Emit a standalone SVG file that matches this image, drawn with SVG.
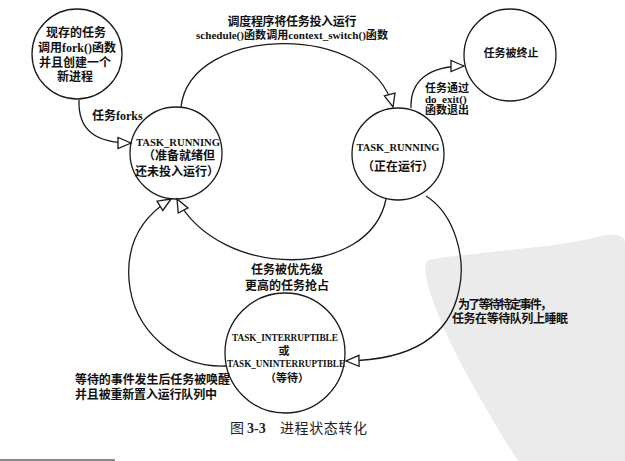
<svg xmlns="http://www.w3.org/2000/svg" width="625" height="461" viewBox="0 0 625 461">
<style>
.node{fill:none;stroke:#1a1a1a;stroke-width:1.3}
.edge{fill:none;stroke:#1a1a1a;stroke-width:1.3}
.t{font-family:"Liberation Serif","Noto Sans CJK SC",serif;font-weight:bold;font-size:12px;fill:#111}
.c{text-anchor:middle}
.lat{font-family:"Liberation Serif",serif;font-size:11px}
.cap{font-family:"Liberation Serif","Noto Sans CJK SC",serif;font-size:14px;fill:#222}
</style>
<defs>
<marker id="arr" markerUnits="userSpaceOnUse" markerWidth="18" markerHeight="14" viewBox="-15 -7 17 14" refX="0" refY="0" orient="auto">
<path d="M0,0 L-13,-5.5 L-13,5.5 Z" fill="#fff" stroke="#1a1a1a" stroke-width="1.3"/>
</marker>
</defs>
<rect width="625" height="461" fill="#fff"/>
<g id="watermark">
<path d="M428 260 C470 252 560 248 600 236 C615 232 625 236 625 242 L625 461 L518 461 C492 420 458 362 442 324 C431 298 420 268 428 260 Z" fill="#ebebeb"/>
</g>
<line x1="0" y1="460" x2="115" y2="460" stroke="#666" stroke-width="1.5"/>
<g id="connectors">
<path class="edge" d="M79 100 C78 130 95 143 131 143" marker-end="url(#arr)"/>
<path class="edge" d="M181 107 C190 25 370 20 393 107" marker-end="url(#arr)"/>
<path class="edge" d="M411 108 C410 80 430 66 464 66" marker-end="url(#arr)"/>
<path class="edge" d="M386 199 C370 280 220 280 177 199" marker-end="url(#arr)"/>
<path class="edge" d="M426 196 C456 215 466 260 459 290 C451 330 420 360 346 361" marker-end="url(#arr)"/>
<path class="edge" d="M226 366 C175 368 133 330 129 280 C126 240 145 215 171 199" marker-end="url(#arr)"/>
</g>
<g id="fork">
<circle class="node" cx="77" cy="54" r="45"/>
<text class="t c" x="76" y="37">现存的任务</text>
<text class="t c" x="77" y="52">调用fork()函数</text>
<text class="t c" x="75" y="67">并且创建一个</text>
<text class="t c" x="75" y="81">新进程</text>
</g>
<g id="ready">
<circle class="node" cx="176" cy="153" r="46"/>
<text class="t c lat" x="178" y="146" textLength="84" lengthAdjust="spacingAndGlyphs">TASK_RUNNING</text>
<text class="t c" x="179" y="160">（准备就绪但</text>
<text class="t c" x="177" y="176">还未投入运行）</text>
</g>
<g id="running">
<circle class="node" cx="398" cy="154" r="46"/>
<text class="t c lat" x="398" y="151" textLength="83" lengthAdjust="spacingAndGlyphs">TASK_RUNNING</text>
<text class="t c" x="398" y="171">（正在运行）</text>
</g>
<g id="terminated">
<circle class="node" cx="510" cy="55" r="46"/>
<text class="t c" x="511" y="57" style="font-size:11px">任务被终止</text>
</g>
<g id="waiting">
<circle class="node" cx="285" cy="353" r="60"/>
<text class="t c lat" x="285" y="341" style="font-size:10px" textLength="106" lengthAdjust="spacingAndGlyphs">TASK_INTERRUPTIBLE</text>
<text class="t c" x="284" y="355" style="font-size:11px">或</text>
<text class="t c lat" x="286" y="367" style="font-size:10px" textLength="118" lengthAdjust="spacingAndGlyphs">TASK_UNINTERRUPTIBLE</text>
<text class="t c" x="287" y="382" style="font-size:11px">（等待）</text>
</g>
<g id="labels">
<text class="t" x="92" y="120">任务forks</text>
<text class="t c" x="292" y="26" textLength="129">调度程序将任务投入运行</text>
<text class="t c" x="292" y="39" style="font-size:11px" textLength="192" lengthAdjust="spacingAndGlyphs">schedule()函数调用context_switch()函数</text>
<text class="t" x="425" y="92" style="font-size:11px">任务通过</text>
<text class="t" x="425" y="103" style="font-size:11px">do_exit()</text>
<text class="t" x="425" y="114" style="font-size:11px">函数退出</text>
<text class="t c" x="287" y="274">任务被优先级</text>
<text class="t c" x="287" y="290">更高的任务抢占</text>
<text class="t" x="458" y="309" textLength="94">为了等待特定事件，</text>
<text class="t" x="452" y="323" textLength="116">任务在等待队列上睡眠</text>
<text class="t" x="75" y="384" textLength="155">等待的事件发生后任务被唤醒</text>
<text class="t" x="75" y="399" textLength="142">并且被重新置入运行队列中</text>
</g>
<g id="caption">
<text class="cap" x="230" y="433">图</text>
<text class="cap" x="247" y="433" style="font-weight:bold">3-3</text>
<text class="cap" x="280" y="433" textLength="87">进程状态转化</text>
</g>
</svg>
